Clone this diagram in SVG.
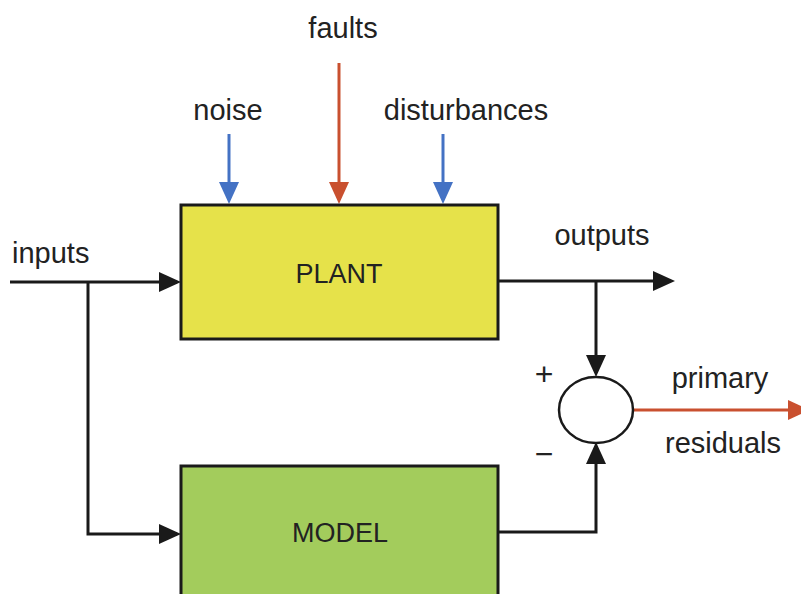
<svg xmlns="http://www.w3.org/2000/svg" width="801" height="594" viewBox="0 0 801 594">
<style>
  text { font-family: "Liberation Sans", Arial, sans-serif; fill: #222222; }
  .lbl { font-size: 29px; }
  .box { stroke: #1a1a1a; stroke-width: 3; }
  .boxlbl { font-size: 27px; text-anchor: middle; }
  .sign { font-size: 32px; text-anchor: middle; }
  .wire { fill: none; stroke: #1a1a1a; stroke-width: 3; }
  .blue { fill: none; stroke: #4472C4; stroke-width: 3; }
  .red { fill: none; stroke: #C9502F; stroke-width: 3; }
</style>
<defs>
  <marker id="ahK" markerUnits="userSpaceOnUse" markerWidth="22" markerHeight="20" viewBox="0 0 22 20" refX="18" refY="10" orient="auto">
    <path d="M0,0 L22,10 L0,20 Z" fill="#1a1a1a"/>
  </marker>
  <marker id="ahB" markerUnits="userSpaceOnUse" markerWidth="22" markerHeight="20" viewBox="0 0 22 20" refX="18" refY="10" orient="auto">
    <path d="M0,0 L22,10 L0,20 Z" fill="#4472C4"/>
  </marker>
  <marker id="ahR" markerUnits="userSpaceOnUse" markerWidth="22" markerHeight="20" viewBox="0 0 22 20" refX="18" refY="10" orient="auto">
    <path d="M0,0 L22,10 L0,20 Z" fill="#C9502F"/>
  </marker>
</defs>
<rect width="801" height="594" fill="#ffffff"/>

<g id="connectors">
  <line class="red" x1="339" y1="63" x2="339" y2="200" marker-end="url(#ahR)"/>
  <line class="blue" x1="229" y1="134" x2="229" y2="200" marker-end="url(#ahB)"/>
  <line class="blue" x1="443" y1="134" x2="443" y2="200" marker-end="url(#ahB)"/>
  <line class="wire" x1="10" y1="282" x2="177" y2="282" marker-end="url(#ahK)"/>
  <polyline class="wire" points="88,282 88,534 177,534" marker-end="url(#ahK)"/>
  <line class="wire" x1="498" y1="281" x2="671" y2="281" marker-end="url(#ahK)"/>
  <polyline class="wire" points="596,281 596,373" marker-end="url(#ahK)"/>
  <polyline class="wire" points="498,532 596,532 596,446" marker-end="url(#ahK)"/>
  <line class="red" x1="633" y1="410" x2="806" y2="410" marker-end="url(#ahR)"/>
</g>

<g id="plant">
  <rect class="box" x="181" y="205" width="317" height="134" fill="#E6E24A"/>
  <text class="boxlbl" x="339" y="283">PLANT</text>
</g>
<g id="model">
  <rect class="box" x="181" y="466" width="317" height="140" fill="#A3CC5C"/>
  <text class="boxlbl" x="340" y="542">MODEL</text>
</g>
<g id="sum">
  <ellipse cx="596" cy="410" rx="37" ry="33" fill="#ffffff" stroke="#1a1a1a" stroke-width="2.5"/>
  <text class="sign" x="544" y="385">+</text>
  <text class="sign" x="544" y="465">−</text>
</g>

<g id="labels">
  <text class="lbl" x="343" y="38" text-anchor="middle">faults</text>
  <text class="lbl" x="228" y="120" text-anchor="middle">noise</text>
  <text class="lbl" x="466" y="120" text-anchor="middle">disturbances</text>
  <text class="lbl" x="12" y="263">inputs</text>
  <text class="lbl" x="602" y="245" text-anchor="middle">outputs</text>
  <text class="lbl" x="720" y="388" text-anchor="middle">primary</text>
  <text class="lbl" x="723" y="453" text-anchor="middle">residuals</text>
</g>
</svg>
